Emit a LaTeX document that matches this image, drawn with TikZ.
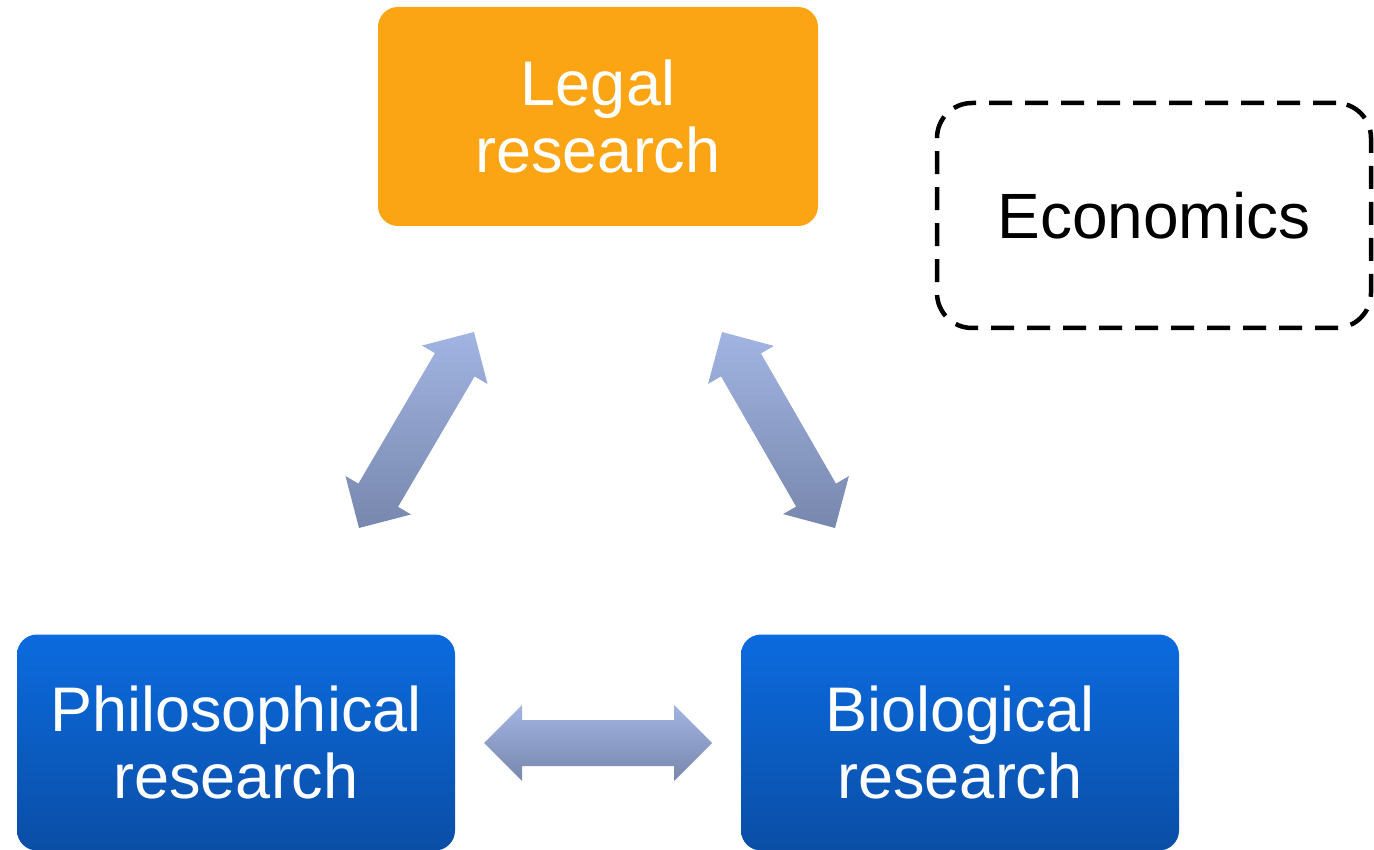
\documentclass[tikz,border=0pt]{standalone}
\usepackage{fontspec}
\setmainfont{Liberation Sans}
\usetikzlibrary{calc}

\definecolor{legalorange}{HTML}{FBA515}
\definecolor{fieldtop}{HTML}{0C6BDF}
\definecolor{fieldbot}{HTML}{0A4EA6}
\definecolor{arrowtop}{HTML}{A2B4E2}
\definecolor{arrowbot}{HTML}{7787AD}

\tikzset{
	field/.style={rounded corners=20pt, inner sep=0pt, align=center, text=white,
		font=\fontsize{63}{67}\selectfont},
	bluefield/.style={field, top color=fieldtop, bottom color=fieldbot,
		minimum width=438pt, minimum height=216pt},
	dblarrow/.style={top color=arrowtop, bottom color=arrowbot, to path={
		let \p1=($(\tikztostart)!38pt!(\tikztotarget)$),
		    \p2=($(\tikztotarget)!38pt!(\tikztostart)$) in
		-- ($(\p1)!38pt!90:(\tikztotarget)$) -- ($(\p1)!23pt!90:(\tikztotarget)$)
		-- ($(\p2)!23pt!-90:(\tikztostart)$) -- ($(\p2)!38pt!-90:(\tikztostart)$)
		-- (\tikztotarget)
		-- ($(\p2)!38pt!90:(\tikztostart)$) -- ($(\p2)!23pt!90:(\tikztostart)$)
		-- ($(\p1)!23pt!-90:(\tikztotarget)$) -- ($(\p1)!38pt!-90:(\tikztotarget)$)
		-- cycle}}
}

\begin{document}
\begin{tikzpicture}[x=1pt,y=-1pt]
	\path[use as bounding box] (0,0) rectangle (1374,850);
	% the four fields
	\node[field, fill=legalorange, minimum width=440pt, minimum height=219pt] (legal) at (598,116.5) {Legal\\research};
	\node[bluefield] (philo) at (236,742.5) {Philosophical\\research};
	\node[bluefield] (bio) at (960,742.5) {Biological\\research};
	\node[draw=black, line width=4.5pt, dash pattern=on 23pt off 13pt, rounded corners=35pt,
		minimum width=434pt, minimum height=225pt, font=\fontsize{64}{68}\selectfont] (econ) at (1154,215.5) {Economics};
	
	% free ends of the block arrows
	\coordinate (left-bot) at (359,528);
	\coordinate (left-top) at (474,332);
	\coordinate (right-top) at (722,332);
	\coordinate (right-bot) at (835,528);
	\coordinate (mid-left) at (484,743);
	\coordinate (mid-right) at (712,743);
	
	\shade[dblarrow] (left-bot) to (left-top);
	\shade[dblarrow] (right-top) to (right-bot);
	\shade[dblarrow] (mid-left) to (mid-right);
\end{tikzpicture}
\end{document}
